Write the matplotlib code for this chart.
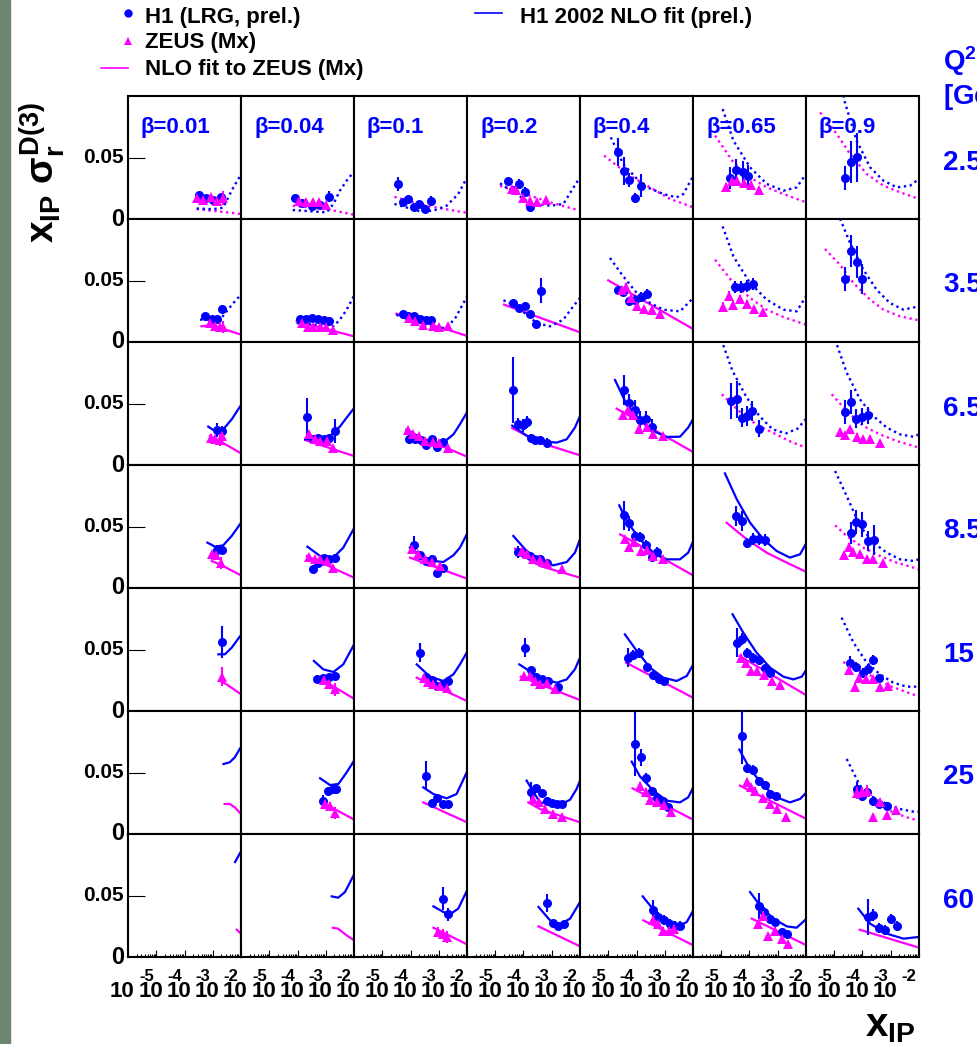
import matplotlib
matplotlib.use("Agg")
import matplotlib.pyplot as plt
from matplotlib.patches import Rectangle
from matplotlib.ticker import FixedLocator, NullLocator

plt.rcParams['font.family'] = ['Liberation Sans', 'DejaVu Sans']
plt.rcParams['font.weight'] = 'bold'
plt.rcParams['mathtext.fontset'] = 'custom'
plt.rcParams['mathtext.rm'] = 'Liberation Sans:bold'
plt.rcParams['mathtext.it'] = 'Liberation Sans:bold'
plt.rcParams['mathtext.bf'] = 'Liberation Sans:bold'
plt.rcParams['mathtext.sf'] = 'Liberation Sans:bold'

# ---------------- data (x values are log10(x_IP)) ----------------
BETA_LABELS = ["β=0.01", "β=0.04", "β=0.1", "β=0.2", "β=0.4", "β=0.65", "β=0.9"]
Q2_LABELS = ["2.5", "3.5", "6.5", "8.5", "15", "25", "60"]
X_TICK_EXP = ["-5", "-4", "-3", "-2"]

# H1 points: column -> [(log10 xIP, value, error)]
h1_q2_2p5 = {
    0: [(-2.49, .0195, .002), (-2.24, .0171, .002), (-1.98, .0154, .002), (-1.72, .0176, .002)],
    1: [(-3.09, .0168, .002), (-2.85, .0127, .002), (-2.50, .0108, .002), (-2.20, .0114, .002), (-1.87, .0182, .0045)],
    2: [(-3.45, .0285, .0055), (-3.28, .0136, .002), (-3.08, .0163, .002), (-2.88, .0095, .002), (-2.69, .0122, .002), (-2.47, .0081, .002), (-2.27, .0149, .0037)],
    3: [(-3.56, .0312, .003), (-3.38, .0236, .003), (-3.15, .0285, .004), (-2.95, .0217, .004), (-2.77, .0100, .002)],
    4: [(-3.64, .0547, .0115), (-3.44, .0388, .0115), (-3.25, .0317, .006), (-3.05, .0168, .004), (-2.85, .0271, .0095)],
    5: [(-3.69, .0333, .009), (-3.48, .0398, .009), (-3.24, .0379, .009), (-3.04, .0352, .009)],
    6: [(-3.62, .0333, .010), (-3.41, .0466, .017), (-3.21, .0501, .020)],
}
zeus_q2_2p5 = {
    0: [(-2.57, .0171, .002), (-2.33, .0154, .002), (-2.06, .0182, .002), (-1.84, .0149, .002), (-1.65, .0171, .006)],
    1: [(-2.94, .0149, .002), (-2.70, .0141, .002), (-2.46, .0141, .002), (-2.23, .0136, .002), (-1.99, .0114, .002)],
    3: [(-3.42, .0244, .002), (-3.27, .0236, .002), (-3.03, .0171, .002), (-2.77, .0149, .002), (-2.51, .0141, .002), (-2.20, .0154, .002)],
    5: [(-3.83, .0263, .003), (-3.63, .0306, .003), (-3.45, .0312, .003), (-3.19, .0293, .003), (-2.95, .0279, .003), (-2.65, .0236, .002)],
}
fit_h1_q2_2p5 = {
    0: [(-2.57, .0085), (-2.0, .0080), (-1.63, .0092), (-1.45, .0176), (-1.27, .0257), (-1.0, .0362)],
    1: [(-3.17, .0073), (-1.97, .0054), (-1.73, .0122), (-1.50, .0230), (-1.26, .0312), (-1.0, .0385)],
    2: [(-3.57, .0122), (-2.66, .0062), (-2.19, .0068), (-1.72, .0108), (-1.31, .0203), (-1.0, .0338)],
    3: [(-3.83, .0290), (-2.77, .0130), (-2.06, .0108), (-1.59, .0122), (-1.30, .0230), (-1.0, .0340)],
    4: [(-3.91, .0664), (-3.47, .0447), (-2.76, .0271), (-2.05, .0203), (-1.58, .0176), (-1.34, .0203), (-0.99, .0352)],
    5: [(-3.95, .0894), (-3.57, .0637), (-2.98, .0420), (-2.39, .0285), (-1.80, .0230), (-1.33, .0257), (-1.0, .0366)],
    6: [(-3.75, .1100), (-3.64, .0962), (-3.21, .0637), (-2.73, .0420), (-2.26, .0312), (-1.79, .0257), (-1.32, .0271), (-1.0, .0325)],
}
fit_zeus_q2_2p5 = {
    0: [(-2.57, .0081), (-1.0, .0041)],
    1: [(-3.17, .0108), (-1.97, .0081), (-1.0, .0035)],
    2: [(-3.57, .0180), (-2.66, .0120), (-2.0, .0090), (-1.0, .0050)],
    3: [(-3.83, .0270), (-2.06, .0136), (-1.0, .0068)],
    4: [(-4.15, .0515), (-3.23, .0352), (-2.52, .0257), (-1.81, .0163), (-0.99, .0095)],
    5: [(-4.22, .0678), (-3.57, .0461), (-2.98, .0339), (-2.39, .0257), (-1.80, .0203), (-1.0, .0136)],
    6: [(-4.50, .0867), (-3.91, .0691), (-3.44, .0528), (-2.85, .0366), (-2.26, .0271), (-1.67, .0217), (-1.0, .0163)],
}

h1_q2_3p5 = {
    0: [(-2.27, .0214, .002), (-2.04, .0187, .002), (-1.86, .0187, .002), (-1.66, .0271, .003)],
    1: [(-2.91, .0187, .002), (-2.70, .0187, .002), (-2.47, .0195, .002), (-2.26, .0187, .002), (-2.06, .0176, .002), (-1.87, .0173, .002)],
    2: [(-3.28, .0230, .002), (-3.08, .0209, .002), (-2.88, .0209, .002), (-2.66, .0187, .002), (-2.45, .0176, .002), (-2.29, .0182, .002)],
    3: [(-3.36, .0317, .002), (-3.15, .0276, .002), (-2.95, .0295, .003), (-2.77, .0230, .002), (-2.56, .0146, .002), (-2.38, .0417, .0102)],
    4: [(-3.64, .0420, .003), (-3.47, .0404, .003), (-3.25, .0331, .003), (-3.05, .0344, .004), (-2.85, .0366, .004), (-2.64, .0393, .004)],
    5: [(-3.51, .0447, .005), (-3.31, .0447, .005), (-3.10, .0453, .005), (-2.89, .0474, .005)],
    6: [(-3.61, .0512, .010), (-3.41, .0743, .013), (-3.21, .0648, .013), (-3.01, .0512, .012)],
}
zeus_q2_3p5 = {
    0: [(-2.10, .0154, .002), (-1.92, .0133, .002), (-1.74, .0122, .002), (-1.65, .0122, .005)],
    1: [(-2.85, .0154, .002), (-2.62, .0122, .002), (-2.44, .0122, .002), (-2.20, .0122, .002), (-1.99, .0122, .002), (-1.76, .0095, .002)],
    2: [(-3.04, .0195, .002), (-2.83, .0168, .002), (-2.57, .0141, .002), (-2.22, .0133, .002), (-1.98, .0122, .002), (-1.66, .0127, .002)],
    4: [(-3.53, .0425, .003), (-3.37, .0447, .003), (-3.19, .0358, .003), (-2.97, .0295, .002), (-2.72, .0268, .002), (-2.46, .0263, .002), (-2.17, .0230, .002)],
    5: [(-3.93, .0285, .004), (-3.71, .0377, .004), (-3.57, .0304, .003), (-3.34, .0350, .003), (-3.10, .0312, .003), (-2.84, .0268, .002), (-2.53, .0241, .002)],
}
fit_h1_q2_3p5 = {
    0: [(-2.45, .0182), (-1.74, .0182), (-1.51, .0249), (-1.27, .0317), (-1.0, .0385)],
    1: [(-3.03, .0154), (-1.73, .0127), (-1.50, .0182), (-1.26, .0263), (-1.0, .0375)],
    2: [(-3.5, .0220), (-2.0, .0110), (-1.7, .0120), (-1.4, .0200), (-1.0, .0370)],
    3: [(-3.71, .0339), (-3.24, .0290), (-2.53, .0154), (-2.06, .0127), (-1.59, .0182), (-1.24, .0290), (-1.0, .0358)],
    4: [(-3.94, .0683), (-3.47, .0534), (-2.99, .0398), (-2.52, .0317), (-2.05, .0263), (-1.46, .0249), (-0.99, .0358)],
    5: [(-3.95, .0940), (-3.57, .0696), (-2.98, .0480), (-2.39, .0344), (-1.80, .0263), (-1.33, .0249), (-1.0, .0371)],
    6: [(-3.85, .1050), (-3.77, .0989), (-3.44, .0805), (-2.97, .0588), (-2.50, .0425), (-2.03, .0317), (-1.55, .0263), (-1.0, .0290)],
}
fit_zeus_q2_3p5 = {
    0: [(-2.4, .0128), (-2.0, .0135), (-1.0, .0060)],
    1: [(-3.03, .0168), (-1.0, .0046)],
    2: [(-3.5, .0230), (-1.0, .0050)],
    3: [(-3.69, .0304), (-1.0, .0079)],
    4: [(-4.0, .0501), (-1.0, .0106)],
    5: [(-4.22, .0669), (-3.57, .0480), (-2.98, .0358), (-2.39, .0263), (-1.80, .0203), (-1.0, .0141)],
    6: [(-4.33, .0756), (-3.80, .0629), (-3.32, .0480), (-2.73, .0344), (-2.26, .0263), (-1.67, .0209), (-1.0, .0176)],
}

h1_q2_6p5 = {
    0: [(-1.86, .0285, .006), (-1.66, .0276, .0045)],
    1: [(-2.68, .0393, .0155), (-2.46, .0209, .002), (-2.26, .0222, .002), (-2.06, .0214, .002), (-1.87, .0222, .002), (-1.67, .0276, .0095)],
    2: [(-3.04, .0214, .002), (-2.84, .0214, .002), (-2.64, .0203, .002), (-2.45, .0160, .002), (-2.25, .0214, .002), (-2.05, .0149, .002), (-1.84, .0187, .002)],
    3: [(-3.36, .0610, .027), (-3.18, .0331, .005), (-3.03, .0322, .005), (-2.89, .0350, .005), (-2.75, .0222, .003), (-2.59, .0203, .003), (-2.42, .0203, .003), (-2.18, .0182, .004)],
    4: [(-3.44, .0610, .012), (-3.25, .0501, .008), (-3.05, .0447, .008), (-2.88, .0366, .007), (-2.66, .0371, .007), (-2.46, .0312, .006)],
    5: [(-3.66, .0520, .015), (-3.46, .0534, .015), (-3.28, .0385, .008), (-3.10, .0398, .008), (-2.92, .0439, .008), (-2.65, .0295, .007)],
    6: [(-3.62, .0431, .010), (-3.42, .0512, .010), (-3.23, .0377, .008), (-3.03, .0393, .007), (-2.79, .0404, .007)],
}
zeus_q2_6p5 = {
    0: [(-2.06, .0222, .003), (-1.92, .0214, .003), (-1.74, .0203, .005), (-1.66, .0236, .003)],
    1: [(-2.58, .0249, .002), (-2.38, .0214, .002), (-2.20, .0195, .002), (-1.97, .0195, .002), (-1.73, .0141, .002)],
    2: [(-3.08, .0285, .002), (-2.90, .0249, .002), (-2.69, .0236, .002), (-2.49, .0195, .002), (-2.22, .0187, .002), (-1.98, .0176, .002), (-1.66, .0141, .002)],
    4: [(-3.47, .0404, .003), (-3.29, .0447, .003), (-3.14, .0404, .003), (-2.90, .0295, .003), (-2.64, .0312, .003), (-2.40, .0249, .002), (-2.07, .0236, .002)],
    6: [(-3.80, .0268, .003), (-3.62, .0241, .003), (-3.44, .0290, .003), (-3.21, .0230, .003), (-2.97, .0214, .002), (-2.73, .0214, .002), (-2.38, .0176, .002)],
}
fit_h1_q2_6p5 = {
    0: [(-2.16, .0312), (-1.92, .0276), (-1.63, .0290), (-1.33, .0371), (-1.0, .0487)],
    1: [(-2.73, .0209), (-2.32, .0214), (-1.85, .0236), (-1.50, .0312), (-1.26, .0385), (-1.0, .0462)],
    2: [(-3.14, .0290), (-2.66, .0222), (-2.19, .0182), (-1.84, .0182), (-1.48, .0249), (-1.25, .0331), (-1.0, .0428)],
    3: [(-3.40, .0320), (-2.90, .0240), (-2.42, .0195), (-1.83, .0182), (-1.47, .0209), (-1.18, .0304), (-1.0, .0398)],
    4: [(-3.76, .0691), (-3.35, .0493), (-2.88, .0371), (-2.40, .0276), (-1.93, .0228), (-1.46, .0230), (-1.17, .0304), (-0.99, .0377)],
    5: [(-4.0, .1020), (-3.60, .0764), (-3.13, .0561), (-2.65, .0398), (-2.18, .0290), (-1.71, .0257), (-1.30, .0295), (-1.0, .0375)],
    6: [(-3.97, .1020), (-3.56, .0751), (-3.09, .0534), (-2.62, .0398), (-2.14, .0304), (-1.67, .0249), (-1.20, .0230), (-1.0, .0249)],
}
fit_zeus_q2_6p5 = {
    0: [(-2.10, .0236), (-1.86, .0209), (-1.0, .0095)],
    1: [(-2.73, .0203), (-1.0, .0073)],
    2: [(-3.14, .0276), (-1.0, .0068)],
    3: [(-3.40, .0300), (-2.42, .0182), (-1.0, .0079)],
    4: [(-3.70, .0458), (-1.0, .0106)],
    5: [(-3.98, .0575), (-3.37, .0439), (-2.77, .0331), (-2.18, .0263), (-1.59, .0195), (-1.0, .0141)],
    6: [(-4.09, .0575), (-3.56, .0439), (-2.97, .0317), (-2.38, .0249), (-1.79, .0195), (-1.0, .0141)],
}

h1_q2_8p5 = {
    0: [(-1.86, .0309, .004), (-1.68, .0309, .003)],
    1: [(-2.46, .0157, .003), (-2.26, .0206, .002), (-2.06, .0247, .002), (-1.87, .0233, .002), (-1.67, .0247, .003)],
    2: [(-2.88, .0350, .0075), (-2.66, .0266, .003), (-2.45, .0220, .002), (-2.25, .0238, .003), (-2.05, .0125, .002), (-1.86, .0165, .002)],
    3: [(-3.18, .0293, .005), (-2.98, .0282, .003), (-2.77, .0260, .003), (-2.59, .0238, .003), (-2.40, .0238, .003), (-2.18, .0200, .003)],
    4: [(-3.44, .0591, .012), (-3.25, .0526, .006), (-3.05, .0423, .004), (-2.88, .0417, .004), (-2.66, .0347, .004), (-2.46, .0255, .003), (-2.26, .0293, .004)],
    5: [(-3.48, .0585, .008), (-3.28, .0545, .008), (-3.08, .0369, .004), (-2.86, .0401, .005), (-2.65, .0396, .005), (-2.45, .0390, .005)],
    6: [(-3.42, .0444, .009), (-3.23, .0537, .010), (-3.03, .0518, .010), (-2.79, .0382, .008), (-2.59, .0390, .012)],
}
zeus_q2_8p5 = {
    0: [(-2.04, .0274, .003), (-1.88, .0266, .003), (-1.72, .0201, .005)],
    1: [(-2.58, .0255, .002), (-2.38, .0233, .002), (-2.20, .0233, .002), (-1.97, .0220, .002), (-1.73, .0165, .002)],
    2: [(-2.96, .0320, .002), (-2.72, .0274, .002), (-2.49, .0233, .002), (-2.25, .0211, .002), (-1.96, .0179, .002)],
    3: [(-3.06, .0301, .002), (-2.89, .0274, .002), (-2.65, .0233, .002), (-2.42, .0228, .002), (-2.18, .0206, .002), (-1.65, .0157, .002)],
    4: [(-3.41, .0396, .003), (-3.25, .0336, .003), (-3.09, .0374, .003), (-2.85, .0301, .003), (-2.62, .0309, .003), (-2.40, .0260, .002), (-2.05, .0233, .002)],
    6: [(-3.65, .0266, .003), (-3.47, .0336, .003), (-3.32, .0293, .003), (-3.09, .0274, .002), (-2.85, .0238, .002), (-2.62, .0233, .002), (-2.29, .0201, .002)],
}
fit_h1_q2_8p5 = {
    0: [(-2.19, .0369), (-1.92, .0336), (-1.63, .0347), (-1.33, .0423), (-1.0, .0530)],
    1: [(-2.65, .0336), (-2.20, .0260), (-1.73, .0247), (-1.38, .0328), (-1.0, .0485)],
    2: [(-3.02, .0328), (-2.66, .0266), (-2.19, .0220), (-1.84, .0211), (-1.48, .0266), (-1.25, .0328), (-1.0, .0440)],
    3: [(-3.36, .0423), (-2.89, .0301), (-2.42, .0233), (-1.95, .0184), (-1.47, .0211), (-1.18, .0287), (-1.0, .0396)],
    4: [(-3.61, .0672), (-3.35, .0545), (-2.88, .0396), (-2.40, .0287), (-1.93, .0233), (-1.46, .0233), (-1.17, .0287), (-0.99, .0382)],
    5: [(-3.87, .0932), (-3.45, .0721), (-2.98, .0531), (-2.51, .0396), (-2.04, .0301), (-1.57, .0247), (-1.21, .0274), (-0.98, .0369)],
    6: [(-3.97, .0951), (-3.56, .0748), (-3.09, .0504), (-2.62, .0369), (-2.14, .0287), (-1.67, .0233), (-1.20, .0220), (-1.0, .0233)],
}
fit_zeus_q2_8p5 = {
    0: [(-2.04, .0220), (-1.75, .0192), (-1.0, .0103)],
    1: [(-2.67, .0260), (-1.0, .0084)],
    2: [(-3.02, .0247), (-1.0, .0076)],
    3: [(-3.30, .0320), (-2.42, .0179), (-1.0, .0084)],
    4: [(-3.58, .0436), (-1.0, .0103)],
    5: [(-3.81, .0531), (-3.10, .0396), (-2.39, .0287), (-1.68, .0206), (-0.98, .0130)],
    6: [(-3.97, .0509), (-3.56, .0423), (-2.97, .0328), (-2.38, .0260), (-1.79, .0206), (-1.0, .0152)],
}

h1_q2_15 = {
    0: [(-1.66, .0564, .013)],
    1: [(-2.30, .0263, .003), (-2.11, .0271, .002), (-1.87, .0279, .002), (-1.67, .0285, .002)],
    2: [(-2.66, .0474, .0075), (-2.45, .0279, .002), (-2.25, .0252, .002), (-2.05, .0203, .002), (-1.84, .0217, .002), (-1.66, .0244, .002)],
    3: [(-2.95, .0515, .0075), (-2.75, .0333, .002), (-2.54, .0279, .002), (-2.36, .0257, .002), (-2.13, .0244, .002), (-1.77, .0198, .002)],
    4: [(-3.29, .0434, .008), (-3.11, .0453, .004), (-2.90, .0469, .004), (-2.64, .0360, .003), (-2.40, .0290, .003), (-2.19, .0263, .003), (-2.03, .0244, .003)],
    5: [(-3.45, .0556, .012), (-3.28, .0583, .005), (-3.08, .0469, .004), (-2.86, .0434, .004), (-2.65, .0415, .004), (-2.45, .0352, .003), (-2.27, .0312, .003)],
    6: [(-3.44, .0388, .006), (-3.23, .0360, .004), (-2.99, .0312, .004), (-2.79, .0339, .004), (-2.62, .0415, .004), (-2.40, .0271, .003)],
}
zeus_q2_15 = {
    0: [(-1.66, .0279, .0075)],
    1: [(-2.06, .0252, .002), (-1.87, .0217, .002), (-1.67, .0176, .005)],
    2: [(-2.52, .0271, .002), (-2.37, .0236, .002), (-2.19, .0217, .002), (-1.96, .0203, .002), (-1.72, .0190, .002)],
    3: [(-2.98, .0285, .002), (-2.77, .0285, .002), (-2.59, .0244, .002), (-2.42, .0217, .002), (-2.18, .0225, .002), (-1.89, .0182, .002)],
    5: [(-3.30, .0434, .003), (-3.12, .0388, .003), (-2.95, .0325, .003), (-2.72, .0325, .003), (-2.49, .0290, .003), (-2.22, .0244, .002), (-1.92, .0209, .002)],
    6: [(-3.47, .0333, .003), (-3.27, .0198, .003), (-3.11, .0271, .003), (-2.88, .0257, .003), (-2.64, .0257, .003), (-2.38, .0198, .002), (-2.09, .0203, .002)],
}
fit_h1_q2_15 = {
    0: [(-1.80, .0461), (-1.57, .0461), (-1.33, .0515), (-1.0, .0618)],
    1: [(-2.42, .0407), (-2.09, .0339), (-1.73, .0317), (-1.38, .0379), (-1.0, .0540)],
    2: [(-2.78, .0379), (-2.31, .0279), (-1.84, .0244), (-1.48, .0298), (-1.25, .0379), (-1.0, .0478)],
    3: [(-3.15, .0379), (-2.42, .0271), (-1.83, .0230), (-1.47, .0257), (-1.18, .0339), (-1.0, .0434)],
    4: [(-3.41, .0623), (-2.99, .0488), (-2.52, .0352), (-2.05, .0271), (-1.58, .0244), (-1.22, .0285), (-0.99, .0379)],
    5: [(-3.60, .0786), (-3.22, .0637), (-2.75, .0474), (-2.27, .0352), (-1.80, .0279), (-1.45, .0257), (-1.15, .0279), (-0.98, .0339)],
    6: [(-3.74, .0759), (-3.32, .0556), (-2.85, .0393), (-2.38, .0298), (-1.91, .0230), (-1.44, .0198), (-1.0, .0198)],
}
fit_zeus_q2_15 = {
    0: [(-1.74, .0244), (-1.51, .0217), (-1.0, .0136)],
    1: [(-2.20, .0263), (-1.0, .0100)],
    2: [(-2.78, .0271), (-1.0, .0081)],
    3: [(-3.10, .0279), (-2.42, .0217), (-1.0, .0089)],
    4: [(-3.37, .0393), (-1.0, .0108)],
    5: [(-3.35, .0447), (-0.98, .0127)],
    6: [(-3.68, .0398), (-3.21, .0339), (-2.62, .0279), (-2.03, .0203), (-1.44, .0154), (-1.0, .0117)],
}

h1_q2_25 = {
    1: [(-2.09, .0271, .005), (-1.91, .0352, .003), (-1.73, .0366, .003), (-1.64, .0366, .004)],
    2: [(-2.45, .0474, .012), (-2.25, .0252, .002), (-2.05, .0290, .002), (-1.86, .0244, .002), (-1.66, .0244, .002)],
    3: [(-2.75, .0339, .008), (-2.56, .0371, .003), (-2.36, .0330, .003), (-2.18, .0271, .003), (-2.00, .0250, .002), (-1.83, .0240, .002), (-1.62, .0244, .002)],
    4: [(-3.05, .0732, .026), (-2.85, .0623, .007), (-2.66, .0453, .004), (-2.45, .0352, .003), (-2.26, .0290, .003), (-2.07, .0271, .003), (-1.87, .0217, .003)],
    5: [(-3.28, .0799, .023), (-3.08, .0534, .004), (-2.86, .0523, .004), (-2.65, .0434, .003), (-2.45, .0398, .003), (-2.27, .0325, .003), (-2.06, .0306, .003)],
    6: [(-3.21, .0366, .006), (-3.03, .0312, .004), (-2.85, .0339, .004), (-2.62, .0271, .004), (-2.40, .0244, .003), (-2.14, .0230, .003)],
}
zeus_q2_25 = {
    1: [(-2.03, .0244, .003), (-1.85, .0230, .003), (-1.67, .0171, .0045)],
    3: [(-2.65, .0285, .002), (-2.44, .0257, .002), (-2.24, .0203, .002), (-1.95, .0163, .002), (-1.65, .0136, .002)],
    4: [(-2.88, .0393, .003), (-2.66, .0344, .003), (-2.52, .0279, .003), (-2.29, .0263, .002), (-2.03, .0236, .002), (-1.79, .0182, .002)],
    5: [(-3.10, .0425, .003), (-2.95, .0379, .003), (-2.80, .0352, .003), (-2.53, .0290, .003), (-2.27, .0244, .002), (-2.04, .0203, .002), (-1.71, .0136, .002)],
    6: [(-3.21, .0333, .005), (-3.03, .0339, .004), (-2.85, .0352, .005), (-2.64, .0136, .003), (-2.38, .0257, .003), (-2.12, .0154, .002), (-1.81, .0198, .002)],
}
fit_h1_q2_25 = {
    0: [(-1.62, .0569), (-1.40, .0583), (-1.22, .0623), (-1.0, .0708)],
    1: [(-2.20, .0453), (-1.85, .0398), (-1.55, .0407), (-1.26, .0501), (-1.0, .0595)],
    2: [(-2.55, .0379), (-2.19, .0325), (-1.72, .0290), (-1.37, .0325), (-1.0, .0505)],
    3: [(-2.89, .0434), (-2.42, .0257), (-1.71, .0236), (-1.35, .0279), (-1.12, .0366), (-1.0, .0434)],
    4: [(-3.17, .0588), (-2.88, .0469), (-2.40, .0352), (-1.93, .0271), (-1.46, .0257), (-1.17, .0298), (-0.99, .0379)],
    5: [(-3.36, .0686), (-2.98, .0528), (-2.51, .0393), (-2.04, .0298), (-1.57, .0257), (-1.21, .0285), (-0.98, .0339)],
    6: [(-3.56, .0610), (-3.09, .0393), (-2.62, .0298), (-2.14, .0244), (-1.67, .0203), (-1.20, .0182), (-1.0, .0182)],
}
fit_zeus_q2_25 = {
    0: [(-1.58, .0244), (-1.40, .0244), (-1.22, .0217), (-1.0, .0163)],
    1: [(-2.11, .0257), (-1.0, .0117)],
    2: [(-2.55, .0257), (-1.0, .0095)],
    3: [(-2.83, .0257), (-2.42, .0203), (-1.0, .0095)],
    4: [(-3.14, .0371), (-1.0, .0117)],
    5: [(-3.34, .0393), (-0.98, .0122)],
    6: [(-3.32, .0339), (-2.85, .0298), (-2.38, .0230), (-1.91, .0176), (-1.44, .0136), (-1.0, .0108)],
}

h1_q2_60 = {
    2: [(-1.86, .0474, .0092), (-1.66, .0347, .0052)],
    3: [(-2.18, .0439, .0072), (-1.95, .0276, .002), (-1.77, .0249, .002), (-1.57, .0266, .002)],
    4: [(-2.43, .0385, .0075), (-2.23, .0325, .004), (-2.03, .0304, .004), (-1.81, .0271, .004), (-1.64, .0249, .004), (-1.46, .0249, .004)],
    5: [(-2.65, .0412, .0105), (-2.49, .0366, .004), (-2.27, .0312, .003), (-2.10, .0285, .003), (-1.86, .0203, .003), (-1.66, .0190, .003)],
    6: [(-2.79, .0325, .0145), (-2.62, .0339, .005), (-2.40, .0238, .004), (-2.20, .0222, .004), (-2.00, .0312, .004), (-1.79, .0249, .004)],
}
zeus_q2_60 = {
    2: [(-2.02, .0203, .004), (-1.84, .0190, .004), (-1.70, .0163, .0048)],
    4: [(-2.40, .0304, .003), (-2.23, .0266, .003), (-2.05, .0211, .003), (-1.84, .0211, .003), (-1.67, .0230, .003)],
    5: [(-2.69, .0271, .003), (-2.51, .0331, .004), (-2.33, .0168, .003), (-2.10, .0211, .003), (-1.86, .0149, .003), (-1.63, .0103, .003)],
}
fit_h1_q2_60 = {
    0: [(-1.21, .0772), (-1.0, .0858)],
    1: [(-1.79, .0493), (-1.56, .0482), (-1.32, .0528), (-1.0, .0670)],
    2: [(-2.19, .0412), (-1.84, .0366), (-1.60, .0347), (-1.31, .0393), (-1.0, .0540)],
    3: [(-2.47, .0407), (-2.06, .0298), (-1.71, .0266), (-1.35, .0312), (-1.0, .0447)],
    4: [(-2.78, .0493), (-2.40, .0385), (-1.93, .0285), (-1.52, .0249), (-1.22, .0285), (-0.99, .0379)],
    5: [(-2.98, .0528), (-2.63, .0420), (-2.16, .0312), (-1.68, .0249), (-1.33, .0238), (-0.98, .0312)],
    6: [(-3.15, .0393), (-2.73, .0271), (-2.14, .0190), (-1.55, .0149), (-1.0, .0163)],
}
fit_zeus_q2_60 = {
    0: [(-1.15, .0222), (-1.0, .0190)],
    1: [(-1.75, .0238), (-1.56, .0230), (-1.26, .0176), (-1.0, .0136)],
    2: [(-2.19, .0238), (-1.0, .0103)],
    3: [(-2.47, .0249), (-1.0, .0087)],
    4: [(-2.76, .0298), (-0.99, .0095)],
    5: [(-2.92, .0312), (-0.98, .0095)],
    6: [(-3.10, .0222), (-1.0, .0076)],
}

# which fit curves are drawn dotted (outside the fitted region), per row
H1_FIT_DOTTED = [set(range(7)), set(range(7)), {5, 6}, {6}, {6}, {6}, set()]
ZEUS_FIT_DOTTED = [set(range(7)), {5, 6}, {5, 6}, {6}, {6}, {6}, set()]

ROWS = [
    (h1_q2_2p5, zeus_q2_2p5, fit_h1_q2_2p5, fit_zeus_q2_2p5),
    (h1_q2_3p5, zeus_q2_3p5, fit_h1_q2_3p5, fit_zeus_q2_3p5),
    (h1_q2_6p5, zeus_q2_6p5, fit_h1_q2_6p5, fit_zeus_q2_6p5),
    (h1_q2_8p5, zeus_q2_8p5, fit_h1_q2_8p5, fit_zeus_q2_8p5),
    (h1_q2_15, zeus_q2_15, fit_h1_q2_15, fit_zeus_q2_15),
    (h1_q2_25, zeus_q2_25, fit_h1_q2_25, fit_zeus_q2_25),
    (h1_q2_60, zeus_q2_60, fit_h1_q2_60, fit_zeus_q2_60),
]

# ---------------- styling / layout ----------------
BLUE = '#0000ff'
MAGENTA = '#ff00ff'
W, H = 978, 1044
PX_L, PX_T, PW, PH = 128, 96, 113, 123
DOT = (0, (1, 1.5))

fig = plt.figure(figsize=(W / 100, H / 100), dpi=100)
fig.patch.set_facecolor('white')


def draw_points(ax, pts, color, marker, ms, z):
    if not pts:
        return
    lx, y, e = zip(*pts)
    ax.errorbar([10 ** v for v in lx], y, yerr=e, fmt=marker, color=color, ms=ms,
                mec=color, mew=0, elinewidth=1.5, capsize=3, capthick=1.5, zorder=z)


def draw_curve(ax, pts, color, dotted):
    if not pts:
        return
    lx, y = zip(*pts)
    ax.plot([10 ** v for v in lx], y, color=color, lw=1.6 if not dotted else 1.7,
            ls=DOT if dotted else '-', zorder=2)


for r, (h1, ze, fh, fz) in enumerate(ROWS):
    for c in range(7):
        left = (PX_L + PW * c) / W
        bottom = 1 - (PX_T + PH * (r + 1)) / H
        ax = fig.add_axes([left, bottom, PW / W, PH / H])
        ax.set_xscale('log')
        ax.set_xlim(1e-5, 1e-1)
        ax.set_ylim(0, 0.1)
        for s in ax.spines.values():
            s.set_linewidth(1.5)
        ax.tick_params(which='both', length=0, labelbottom=False, labelleft=False)
        ax.yaxis.set_major_locator(NullLocator())
        ax.yaxis.set_minor_locator(NullLocator())
        if c == 0:
            ax.yaxis.set_major_locator(FixedLocator([0.05]))
            ax.tick_params(axis='y', which='major', direction='in', length=12, width=0.8, left=True)
        if r == 6:
            ax.xaxis.set_major_locator(FixedLocator([1e-5, 1e-4, 1e-3, 1e-2, 1e-1]))
            minors = [m * 10.0 ** e for e in range(-5, -1) for m in range(2, 10)]
            ax.xaxis.set_minor_locator(FixedLocator(minors))
            ax.tick_params(axis='x', which='major', direction='in', length=5, width=0.8, bottom=True)
            ax.tick_params(axis='x', which='minor', direction='in', length=2.5, width=0.8, bottom=True)
        else:
            ax.xaxis.set_major_locator(NullLocator())
            ax.xaxis.set_minor_locator(NullLocator())

        draw_curve(ax, fz.get(c, []), MAGENTA, c in ZEUS_FIT_DOTTED[r])
        draw_curve(ax, fh.get(c, []), BLUE, c in H1_FIT_DOTTED[r])
        draw_points(ax, h1.get(c, []), BLUE, 'o', 6.5, 3)
        draw_points(ax, ze.get(c, []), MAGENTA, '^', 7, 4)

# ---------------- overlay for texts / legend ----------------
ov = fig.add_axes([0, 0, 1, 1], zorder=10)
ov.set_xlim(0, W)
ov.set_ylim(H, 0)
ov.axis('off')
ov.patch.set_alpha(0)

ov.add_patch(Rectangle((0, 0), 10, H, color='#6e856f', zorder=0))

# legend
ov.plot([128], [13], 'o', color=BLUE, ms=6, mew=0)
ov.plot([128], [41], '^', color=MAGENTA, ms=5.5, mew=0)
ov.plot([101, 128], [68, 68], color=MAGENTA, lw=1.2)
ov.plot([475, 502], [13, 13], color=BLUE, lw=1.2)
ov.text(145, 23, "H1 (LRG, prel.)", fontsize=16, va='baseline', ha='left')
ov.text(145, 48, "ZEUS (Mx)", fontsize=16, va='baseline', ha='left')
ov.text(145, 75, "NLO fit to ZEUS (Mx)", fontsize=16, va='baseline', ha='left')
ov.text(520, 23, "H1 2002 NLO fit (prel.)", fontsize=16, va='baseline', ha='left')

# beta labels
for c, lab in enumerate(BETA_LABELS):
    ov.text(PX_L + PW * c + 13, 133, lab, fontsize=16, color=BLUE, va='baseline', ha='left')

# Q2 labels
ov.text(943, 70, r"Q$^{2}$", fontsize=20, color=BLUE, va='baseline', ha='left')
ov.text(943, 105, r"[GeV$^{2}$]", fontsize=20, color=BLUE, va='baseline', ha='left')
for r, lab in enumerate(Q2_LABELS):
    yc = PX_T + PH * r + PH / 2
    ov.text(943, yc + 12, lab, fontsize=20, color=BLUE, va='baseline', ha='left')

# y tick labels
for r in range(7):
    yb = PX_T + PH * (r + 1)
    ov.text(124, yb, "0", fontsize=17, va='center', ha='right')
    ov.text(124, yb - PH / 2, "0.05", fontsize=15, va='center', ha='right')

# x tick labels: ROOT style "10" with a raised exponent to its right
for c in range(7):
    for k, e in enumerate(X_TICK_EXP):
        x = PX_L + PW * c + PW / 4 * k
        ov.text(x - 18, 997, "10", fontsize=16, va='baseline', ha='left')
        ov.text(x + 11, 981, e, fontsize=12, va='baseline', ha='left')

# axis titles
ov.text(42, 172, r"x$_{IP}$ $\sigma_{r}^{D(3)}$", fontsize=28, rotation=90,
        va='center', ha='center')
ov.text(865, 1036, r"x$_{IP}$", fontsize=29, va='baseline', ha='left')

fig.savefig("out.png", dpi=100)
